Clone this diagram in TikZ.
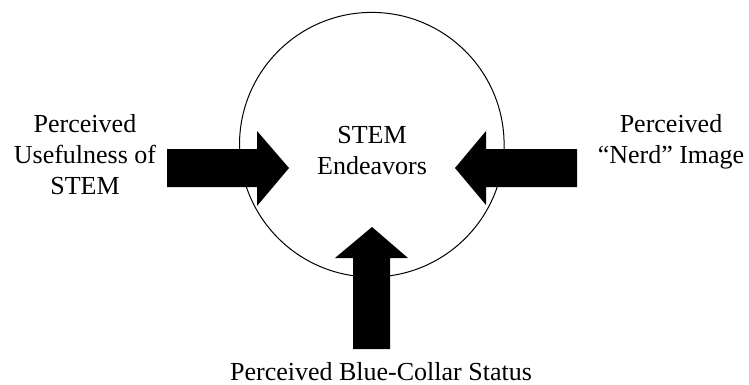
\documentclass[tikz,border=0pt]{standalone}
\usepackage{fontspec}
\setmainfont{Liberation Serif}
\begin{document}
\begin{tikzpicture}[x=1pt,y=-1pt,
  lbl/.style={inner sep=0pt,align=center,anchor=base,font=\fontsize{26}{31}\selectfont},
  blockarrow/.style={fill=black,draw=none}]
\useasboundingbox (0,0) rectangle (749,385);
% circle
\node[draw,circle,line width=1pt,minimum size=264.6pt,inner sep=0pt] (c) at (371.8,144.7) {};
% arrows
\fill[blockarrow] (167,149) -- (257,149) -- (257,131) -- (289,168) -- (257,206) -- (257,187) -- (167,187) -- cycle;
\fill[blockarrow] (577,149) -- (486,149) -- (486,131) -- (455,168) -- (486,205) -- (486,187) -- (577,187) -- cycle;
\fill[blockarrow] (353,349) -- (353,258) -- (335,258) -- (372,227) -- (408,258) -- (390,258) -- (390,349) -- cycle;
% labels (base anchor = baseline of last line)
\node[lbl] (center) at (372,174) {STEM\\Endeavors};
\node[lbl] (left) at (85,194) {Perceived\\Usefulness of\\STEM};
\node[lbl] (right) at (671,163) {Perceived\\“Nerd” Image};
\node[lbl] (bottom) at (381,380) {Perceived Blue-Collar Status};
\end{tikzpicture}
\end{document}
